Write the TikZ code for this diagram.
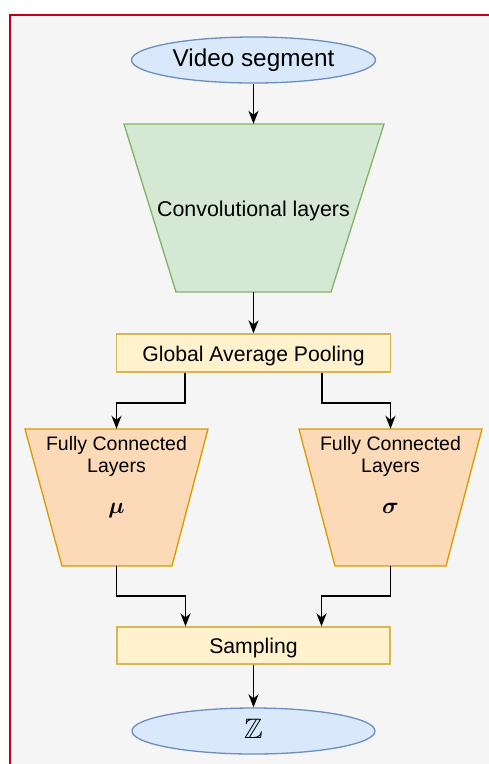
\RequirePackage{fix-cm}
\documentclass[tikz,border=0pt]{standalone}
\usepackage{amsmath,amssymb}
\usepackage{graphicx}
\usepackage{fontspec}
\setmainfont{Liberation Sans}
\usetikzlibrary{arrows.meta,shapes.geometric}
\definecolor{bgc}{HTML}{F5F5F5}
\definecolor{redb}{HTML}{BE0020}
\definecolor{bluef}{HTML}{DAE8FC}
\definecolor{blued}{HTML}{6C8EBF}
\definecolor{greenf}{HTML}{D5E8D4}
\definecolor{greend}{HTML}{82B366}
\definecolor{yelf}{HTML}{FFF2CC}
\definecolor{yeld}{HTML}{D6B656}
\definecolor{oraf}{HTML}{FCDAB8}
\definecolor{orad}{HTML}{D79B00}
\begin{document}
\begin{tikzpicture}[x=1pt,y=-1pt,
  ell/.style={ellipse, draw=blued, fill=bluef, line width=1.3pt, minimum width=244pt, minimum height=46pt, inner sep=0pt},
  boxy/.style={rectangle, draw=yeld, fill=yelf, line width=1.3pt, minimum width=274pt, minimum height=38pt, inner sep=0pt, font=\fontsize{21.2}{21.2}\selectfont, text height=19.4pt, text depth=3pt},
  holder/.style={rectangle, inner sep=0pt},
  greentrap/.style={draw=greend, fill=greenf, line width=1.3pt, line join=miter},
  oratrap/.style={draw=orad, fill=oraf, line width=1.3pt, line join=miter},
  arr/.style={-{Stealth[length=13pt,width=10pt,inset=4pt]}, line width=1.7pt},
  fctext/.style={align=center, font=\fontsize{19.5}{22}\selectfont, inner sep=0pt},
  greek/.style={inner sep=0pt, font=\fontsize{23}{23}\selectfont, anchor=base}
]
\useasboundingbox (0,0) rectangle (489,764);
\fill[bgc] (10,15) rectangle (489,764);
\draw[redb, line width=2.4pt] (10,765) -- (10,15) -- (490,15);

% shapes
\draw[greentrap] (124,124) -- (384,124) -- (331,292) -- (176,292) -- cycle;
\draw[oratrap] (25,429) -- (208,429) -- (172,566) -- (62,566) -- cycle;
\draw[oratrap] (299,429) -- (482,429) -- (446,566) -- (335,566) -- cycle;

\node[ell, font=\fontsize{24.3}{24.3}\selectfont, text height=18pt, text depth=4.6pt] (video) at (253.5,60) {Video segment};
\node[holder, minimum width=260pt, minimum height=168pt, font=\fontsize{21.4}{21.4}\selectfont, text height=20pt, text depth=2.6pt] (conv) at (253.5,208) {Convolutional layers};
\node[boxy] (gap) at (253.5,353) {Global Average Pooling};
\node[holder, minimum width=183pt, minimum height=137pt] (fcl) at (116.5,497.5) {};
\node[holder, minimum width=183pt, minimum height=137pt] (fcr) at (390.5,497.5) {};
\node[fctext] (fcltext) at (116.5,456.7) {Fully Connected\\Layers};
\node[fctext] (fcrtext) at (390.5,456.7) {Fully Connected\\Layers};
\node[greek] (mu) at (116.5,513) {$\boldsymbol{\mu}$};
\node[greek] (sigma) at (390.5,513) {$\boldsymbol{\sigma}$};
\node[boxy, minimum width=273pt, minimum height=37pt] (samp) at (253.5,645.5) {Sampling};
\node[ell, minimum width=243pt, font=\fontsize{24.88}{24.88}\selectfont, text height=16pt, text depth=1.4pt] (zell) at (253.5,731) {\scalebox{1.13}{$\mathbb{Z}$}};

% connectors
\draw[arr] (video.south) -- (video.south |- conv.north);
\draw[arr] (conv.south) -- (conv.south |- gap.north);
\draw[arr] ([xshift=-68.5pt]gap.south) -- ++(0,30) -| (fcl.north);
\draw[arr] ([xshift=68.5pt]gap.south) -- ++(0,30) -| (fcr.north);
\draw[arr] (fcl.south) -- ++(0,30) -| ([xshift=-68pt]samp.north);
\draw[arr] (fcr.south) -- ++(0,30) -| ([xshift=68pt]samp.north);
\draw[arr] (samp.south) -- (samp.south |- zell.north);
\end{tikzpicture}
\end{document}
